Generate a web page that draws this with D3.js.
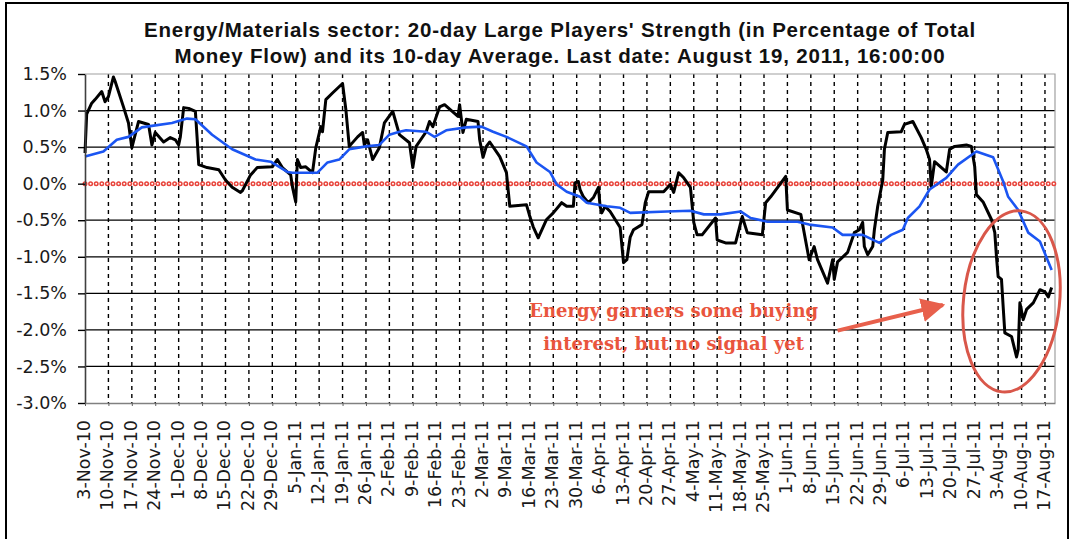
<!DOCTYPE html>
<html lang="en">
<head>
<meta charset="utf-8">
<title>Energy/Materials sector: Large Players' Strength</title>
<script src="https://d3js.org/d3.v7.min.js"></script>
<style>
  body { margin: 0; background: #fff; }
  svg { display: block; }
</style>
</head>
<body>
<script>
// ---- data ----
const titleLines = [
  "Energy/Materials sector: 20-day Large Players' Strength (in Percentage of Total",
  "Money Flow) and its 10-day Average. Last date: August 19, 2011, 16:00:00"
];

const noteLines = ["Energy garners some buying", "interest, but no signal yet"];

// 20-day Large Players' Strength (black)
const strengthDates = [
  "2010-11-03 00","2010-11-03 12","2010-11-05 00","2010-11-06 00","2010-11-08 00","2010-11-09 00","2010-11-10 00","2010-11-11 12","2010-11-12 00","2010-11-14 12",
  "2010-11-16 00","2010-11-17 00","2010-11-18 00","2010-11-19 00","2010-11-22 00","2010-11-23 00","2010-11-24 00","2010-11-26 12","2010-11-28 12","2010-11-30 00",
  "2010-12-01 00","2010-12-01 12","2010-12-02 12","2010-12-04 00","2010-12-06 00","2010-12-06 12","2010-12-07 00","2010-12-09 12","2010-12-13 00","2010-12-15 00",
  "2010-12-17 00","2010-12-19 12","2010-12-20 00","2010-12-22 12","2010-12-24 12","2010-12-29 00","2010-12-30 12","2011-01-01 00","2011-01-03 12","2011-01-04 00",
  "2011-01-05 00","2011-01-05 12","2011-01-06 12","2011-01-08 00","2011-01-10 00","2011-01-11 00","2011-01-12 12","2011-01-13 00","2011-01-14 00","2011-01-16 00",
  "2011-01-19 00","2011-01-20 00","2011-01-21 00","2011-01-23 12","2011-01-25 00","2011-01-25 12","2011-01-26 12","2011-01-28 00","2011-01-30 00","2011-01-31 12",
  "2011-02-03 00","2011-02-05 00","2011-02-08 00","2011-02-09 00","2011-02-10 00","2011-02-13 00","2011-02-14 00","2011-02-15 00","2011-02-17 00","2011-02-18 12",
  "2011-02-22 12","2011-02-23 00","2011-02-24 00","2011-02-25 00","2011-02-28 12","2011-03-01 00","2011-03-02 00","2011-03-03 00","2011-03-04 00","2011-03-07 00",
  "2011-03-09 00","2011-03-10 00","2011-03-15 00","2011-03-16 00","2011-03-17 00","2011-03-18 12","2011-03-21 00","2011-03-23 00","2011-03-25 12","2011-03-27 00",
  "2011-03-29 00","2011-03-29 12","2011-03-30 12","2011-03-31 00","2011-04-01 00","2011-04-02 12","2011-04-04 00","2011-04-05 12","2011-04-06 00","2011-04-06 12",
  "2011-04-07 12","2011-04-09 00","2011-04-10 12","2011-04-12 00","2011-04-13 00","2011-04-14 00","2011-04-15 00","2011-04-16 00","2011-04-18 12","2011-04-19 12",
  "2011-04-20 12","2011-04-25 00","2011-04-27 00","2011-04-28 00","2011-04-29 12","2011-05-01 00","2011-05-03 00","2011-05-04 00","2011-05-05 00","2011-05-06 12",
  "2011-05-10 12","2011-05-11 00","2011-05-13 12","2011-05-16 12","2011-05-18 12","2011-05-20 00","2011-05-24 12","2011-05-25 12","2011-05-27 00","2011-05-31 12",
  "2011-06-01 00","2011-06-05 00","2011-06-07 12","2011-06-09 00","2011-06-10 00","2011-06-13 00","2011-06-14 12","2011-06-15 00","2011-06-16 00","2011-06-19 00",
  "2011-06-21 00","2011-06-22 12","2011-06-23 12","2011-06-24 00","2011-06-25 00","2011-06-26 12","2011-06-27 00","2011-06-28 00","2011-06-29 12","2011-06-30 00",
  "2011-07-01 00","2011-07-05 00","2011-07-06 00","2011-07-08 12","2011-07-11 00","2011-07-12 12","2011-07-13 12","2011-07-14 00","2011-07-15 00","2011-07-18 12",
  "2011-07-19 12","2011-07-21 00","2011-07-24 12","2011-07-26 00","2011-07-27 00","2011-07-27 12","2011-07-29 12","2011-08-01 00","2011-08-02 00","2011-08-02 12",
  "2011-08-03 00","2011-08-04 00","2011-08-04 12","2011-08-05 00","2011-08-07 00","2011-08-08 12","2011-08-09 00","2011-08-09 12","2011-08-10 12","2011-08-11 12",
  "2011-08-13 12","2011-08-15 12","2011-08-17 00","2011-08-18 00","2011-08-19 00"
];
const strengthValues = [
  0.42,0.95,1.10,1.15,1.26,1.12,1.19,1.46,1.40,1.05,
  0.83,0.49,0.67,0.85,0.81,0.53,0.70,0.57,0.63,0.60,
  0.53,0.64,1.04,1.03,0.99,0.64,0.26,0.22,0.19,0.05,
  -0.05,-0.12,-0.10,0.12,0.22,0.23,0.33,0.22,0.12,-0.04,
  -0.25,0.33,0.22,0.23,0.15,0.49,0.78,0.71,1.15,1.24,
  1.37,1.01,0.51,0.64,0.70,0.53,0.60,0.33,0.49,0.83,
  0.99,0.67,0.56,0.22,0.51,0.71,0.85,0.78,1.05,1.08,
  0.92,1.08,0.70,0.88,0.85,0.60,0.36,0.51,0.57,0.37,
  0.15,-0.31,-0.29,-0.45,-0.59,-0.74,-0.49,-0.40,-0.26,-0.31,
  -0.31,0.01,0.03,-0.08,-0.18,-0.26,-0.19,-0.05,-0.31,-0.40,
  -0.31,-0.38,-0.49,-0.60,-1.08,-1.04,-0.73,-0.63,-0.56,-0.26,
  -0.11,-0.11,-0.01,-0.12,0.15,0.08,-0.05,-0.53,-0.70,-0.70,
  -0.47,-0.77,-0.81,-0.81,-0.45,-0.67,-0.70,-0.26,-0.18,0.10,
  -0.36,-0.42,-1.04,-0.86,-1.04,-1.36,-1.04,-1.31,-1.07,-0.94,
  -0.67,-0.63,-0.53,-0.86,-0.97,-0.86,-0.63,-0.31,0.05,0.47,
  0.70,0.71,0.81,0.85,0.63,0.47,0.33,-0.04,0.30,0.16,
  0.47,0.51,0.53,0.51,0.23,-0.15,-0.25,-0.49,-0.67,-1.00,
  -1.27,-1.31,-1.68,-2.04,-2.09,-2.37,-2.27,-1.63,-1.86,-1.72,
  -1.63,-1.45,-1.48,-1.55,-1.42
];

// 10-day average (blue)
const averageDates = [
  "2010-11-03 00","2010-11-08 12","2010-11-12 12","2010-11-16 00","2010-11-20 00","2010-11-23 00","2010-11-29 00","2010-12-03 12","2010-12-06 00","2010-12-11 00",
  "2010-12-17 00","2010-12-24 00","2010-12-28 12","2011-01-02 12","2011-01-04 00","2011-01-11 12","2011-01-14 12","2011-01-18 00","2011-01-21 00","2011-01-26 00",
  "2011-01-30 00","2011-02-02 00","2011-02-05 00","2011-02-07 00","2011-02-13 00","2011-02-15 12","2011-02-19 00","2011-02-25 00","2011-03-01 12","2011-03-05 00",
  "2011-03-09 00","2011-03-15 00","2011-03-18 00","2011-03-22 00","2011-03-24 00","2011-03-27 00","2011-03-31 00","2011-04-02 00","2011-04-08 00","2011-04-12 00",
  "2011-04-15 00","2011-04-26 00","2011-05-03 00","2011-05-07 00","2011-05-12 00","2011-05-18 00","2011-05-21 00","2011-05-26 00","2011-06-04 00","2011-06-07 12",
  "2011-06-14 12","2011-06-17 12","2011-06-23 12","2011-06-28 12","2011-07-02 00","2011-07-05 12","2011-07-07 00","2011-07-10 12","2011-07-13 12","2011-07-18 12",
  "2011-07-22 00","2011-07-27 12","2011-08-01 12","2011-08-04 12","2011-08-06 00","2011-08-09 00","2011-08-12 00","2011-08-15 12","2011-08-19 00"
];
const averageValues = [
  0.37,0.44,0.60,0.64,0.77,0.79,0.83,0.89,0.88,0.67,
  0.47,0.33,0.30,0.16,0.15,0.15,0.29,0.33,0.47,0.51,
  0.53,0.67,0.71,0.73,0.71,0.64,0.73,0.77,0.78,0.71,
  0.64,0.51,0.29,0.16,-0.01,-0.11,-0.18,-0.26,-0.31,-0.33,
  -0.40,-0.38,-0.37,-0.42,-0.42,-0.38,-0.47,-0.52,-0.52,-0.56,
  -0.60,-0.70,-0.70,-0.81,-0.70,-0.63,-0.47,-0.31,-0.08,0.08,
  0.26,0.44,0.36,0.03,-0.18,-0.36,-0.67,-0.79,-1.18
];

const xTickLabels = [
  "3-Nov-10","10-Nov-10","17-Nov-10","24-Nov-10","1-Dec-10","8-Dec-10","15-Dec-10","22-Dec-10","29-Dec-10",
  "5-Jan-11","12-Jan-11","19-Jan-11","26-Jan-11","2-Feb-11","9-Feb-11","16-Feb-11","23-Feb-11",
  "2-Mar-11","9-Mar-11","16-Mar-11","23-Mar-11","30-Mar-11","6-Apr-11","13-Apr-11","20-Apr-11","27-Apr-11",
  "4-May-11","11-May-11","18-May-11","25-May-11","1-Jun-11","8-Jun-11","15-Jun-11","22-Jun-11","29-Jun-11",
  "6-Jul-11","13-Jul-11","20-Jul-11","27-Jul-11","3-Aug-11","10-Aug-11","17-Aug-11"
];

const yTickValues = [1.5, 1.0, 0.5, 0.0, -0.5, -1.0, -1.5, -2.0, -2.5, -3.0];
const yTickLabels = ["1.5%","1.0%","0.5%","0.0%","-0.5%","-1.0%","-1.5%","-2.0%","-2.5%","-3.0%"];

// ---- drawing ----
const w = 1071;
const h = 539;
const plot = {left: 85, right: 1055, top: 74, bottom: 403};

const svg = d3.select("body")
              .append("svg")
              .attr("width", w)
              .attr("height", h);

const parseTime = d3.timeParse("%Y-%m-%d %H");
const parseTick = d3.timeParse("%d-%b-%y");

const strength = strengthDates.map((d, i) => ({date: parseTime(d), value: strengthValues[i]}));
const average = averageDates.map((d, i) => ({date: parseTime(d), value: averageValues[i]}));
const tickDates = xTickLabels.map(parseTick);

const xScale = d3.scaleTime()
                 .domain([tickDates[0], d3.timeDay.offset(strength[strength.length - 1].date, 1)])
                 .range([plot.left, plot.right]);

const yScale = d3.scaleLinear()
                 .domain([d3.min(yTickValues), d3.max(yTickValues)])
                 .range([plot.bottom, plot.top]);

const axisFont = "'DejaVu Sans', Verdana, sans-serif";

// outer frame
svg.append("rect")
   .attr("x", 6).attr("y", 3)
   .attr("width", 1062).attr("height", 600)
   .attr("fill", "#fff")
   .attr("stroke", "#000")
   .attr("stroke-width", 2);

// horizontal gridlines
svg.append("g")
   .selectAll("line")
   .data(yTickValues.filter(v => v !== 0 && v !== 1.5 && v !== -3.0))
   .enter()
   .append("line")
   .attr("x1", plot.left).attr("x2", plot.right)
   .attr("y1", d => yScale(d)).attr("y2", d => yScale(d))
   .attr("stroke", "#000")
   .attr("stroke-width", 1.2);

// vertical dashed gridlines
svg.append("g")
   .selectAll("line")
   .data(tickDates.slice(1))
   .enter()
   .append("line")
   .attr("x1", d => xScale(d)).attr("x2", d => xScale(d))
   .attr("y1", plot.top).attr("y2", plot.bottom)
   .attr("stroke", "#000")
   .attr("stroke-width", 1.4)
   .attr("stroke-dasharray", "4,4");

// plot border (top/right)
svg.append("path")
   .attr("d", `M${plot.left},${plot.top}H${plot.right}V${plot.bottom}`)
   .attr("fill", "none")
   .attr("stroke", "#a0a0a0")
   .attr("stroke-width", 1.2);

// zero line drawn as small hollow red circles
const zeroLine = d3.line()
                   .x(d => xScale(d))
                   .y(() => yScale(0));
const zeroDomain = xScale.domain();
svg.append("path")
   .attr("d", zeroLine(zeroDomain))
   .attr("stroke", "#e8453c")
   .attr("stroke-width", 5)
   .attr("stroke-linecap", "round")
   .attr("stroke-dasharray", "0,5.6");
svg.append("path")
   .attr("d", zeroLine(zeroDomain))
   .attr("stroke", "#fff")
   .attr("stroke-width", 2)
   .attr("stroke-linecap", "round")
   .attr("stroke-dasharray", "0,5.6");

const line = d3.line()
               .x(d => xScale(d.date))
               .y(d => yScale(d.value));

svg.append("path")
   .datum(strength)
   .attr("d", line)
   .attr("fill", "none")
   .attr("stroke", "#000")
   .attr("stroke-width", 3)
   .attr("stroke-linejoin", "round");

svg.append("path")
   .datum(average)
   .attr("d", line)
   .attr("fill", "none")
   .attr("stroke", "#1b55f2")
   .attr("stroke-width", 2.6)
   .attr("stroke-linejoin", "round");

// y axis
const yAxis = svg.append("g")
   .attr("transform", `translate(${plot.left},0)`)
   .call(d3.axisLeft(yScale)
           .tickValues(yTickValues)
           .tickFormat((d, i) => yTickLabels[i])
           .tickSize(7)
           .tickSizeOuter(0)
           .tickPadding(11));
yAxis.select(".domain").attr("stroke", "#404040").attr("stroke-width", 1.6);
yAxis.selectAll(".tick line").attr("stroke", "#000").attr("stroke-width", 1.4);
yAxis.selectAll("text")
     .attr("font-family", axisFont)
     .attr("font-size", "17.5px")
     .attr("fill", "#1a1a1a");

// x axis
const xAxis = svg.append("g")
   .attr("transform", `translate(0,${plot.bottom})`)
   .call(d3.axisBottom(xScale)
           .tickValues(tickDates)
           .tickFormat((d, i) => xTickLabels[i])
           .tickSize(3)
           .tickSizeOuter(0));
xAxis.select(".domain").attr("stroke", "#808080").attr("stroke-width", 1.4);
xAxis.selectAll(".tick line").attr("stroke", "#606060");
xAxis.selectAll("text")
     .attr("transform", "rotate(-90)")
     .attr("text-anchor", "end")
     .attr("dominant-baseline", "central")
     .attr("x", -17)
     .attr("y", -1.5)
     .attr("dy", null)
     .attr("font-family", axisFont)
     .attr("font-size", "17.5px")
     .attr("fill", "#1a1a1a");

// title
svg.append("g")
   .selectAll("text")
   .data(titleLines)
   .enter()
   .append("text")
   .attr("x", 560)
   .attr("y", (d, i) => 37 + i * 26)
   .attr("text-anchor", "middle")
   .attr("font-family", "'Liberation Sans', Arial, sans-serif")
   .attr("font-weight", "bold")
   .attr("font-size", "20.5px")
   .attr("letter-spacing", "0.8px")
   .attr("fill", "#111")
   .text(d => d);

// annotation
const noteColor = "#e9553d";
const noteDate = parseTime("2011-04-28 00");
svg.append("g")
   .selectAll("text")
   .data(noteLines)
   .enter()
   .append("text")
   .attr("x", xScale(noteDate))
   .attr("y", (d, i) => yScale(-1.83 - i * 0.44))
   .attr("text-anchor", "middle")
   .attr("font-family", "'DejaVu Serif', Georgia, serif")
   .attr("font-weight", "bold")
   .attr("font-size", "18px")
   .attr("fill", noteColor)
   .text(d => d);

svg.append("defs")
   .append("marker")
   .attr("id", "head")
   .attr("viewBox", "0 0 10 10")
   .attr("refX", 9).attr("refY", 5)
   .attr("markerWidth", 6).attr("markerHeight", 6)
   .attr("markerUnits", "strokeWidth")
   .attr("orient", "auto")
   .append("path")
   .attr("d", "M0,0L10,5L0,10Z")
   .attr("fill", "#e8604c");

const arrowFrom = {date: parseTime("2011-06-16 00"), value: -2.01};
const arrowTo = {date: parseTime("2011-07-17 12"), value: -1.66};
svg.append("line")
   .attr("x1", xScale(arrowFrom.date)).attr("y1", yScale(arrowFrom.value))
   .attr("x2", xScale(arrowTo.date)).attr("y2", yScale(arrowTo.value))
   .attr("stroke", "#e8604c")
   .attr("stroke-width", 4)
   .attr("marker-end", "url(#head)");

const ringCenter = {date: parseTime("2011-08-07 00"), value: -1.61};
const cx = xScale(ringCenter.date), cy = yScale(ringCenter.value);
svg.append("ellipse")
   .attr("cx", cx).attr("cy", cy)
   .attr("rx", 48).attr("ry", 91)
   .attr("transform", `rotate(6,${cx},${cy})`)
   .attr("fill", "none")
   .attr("stroke", "#d9574a")
   .attr("stroke-width", 3);
</script>
</body>
</html>
